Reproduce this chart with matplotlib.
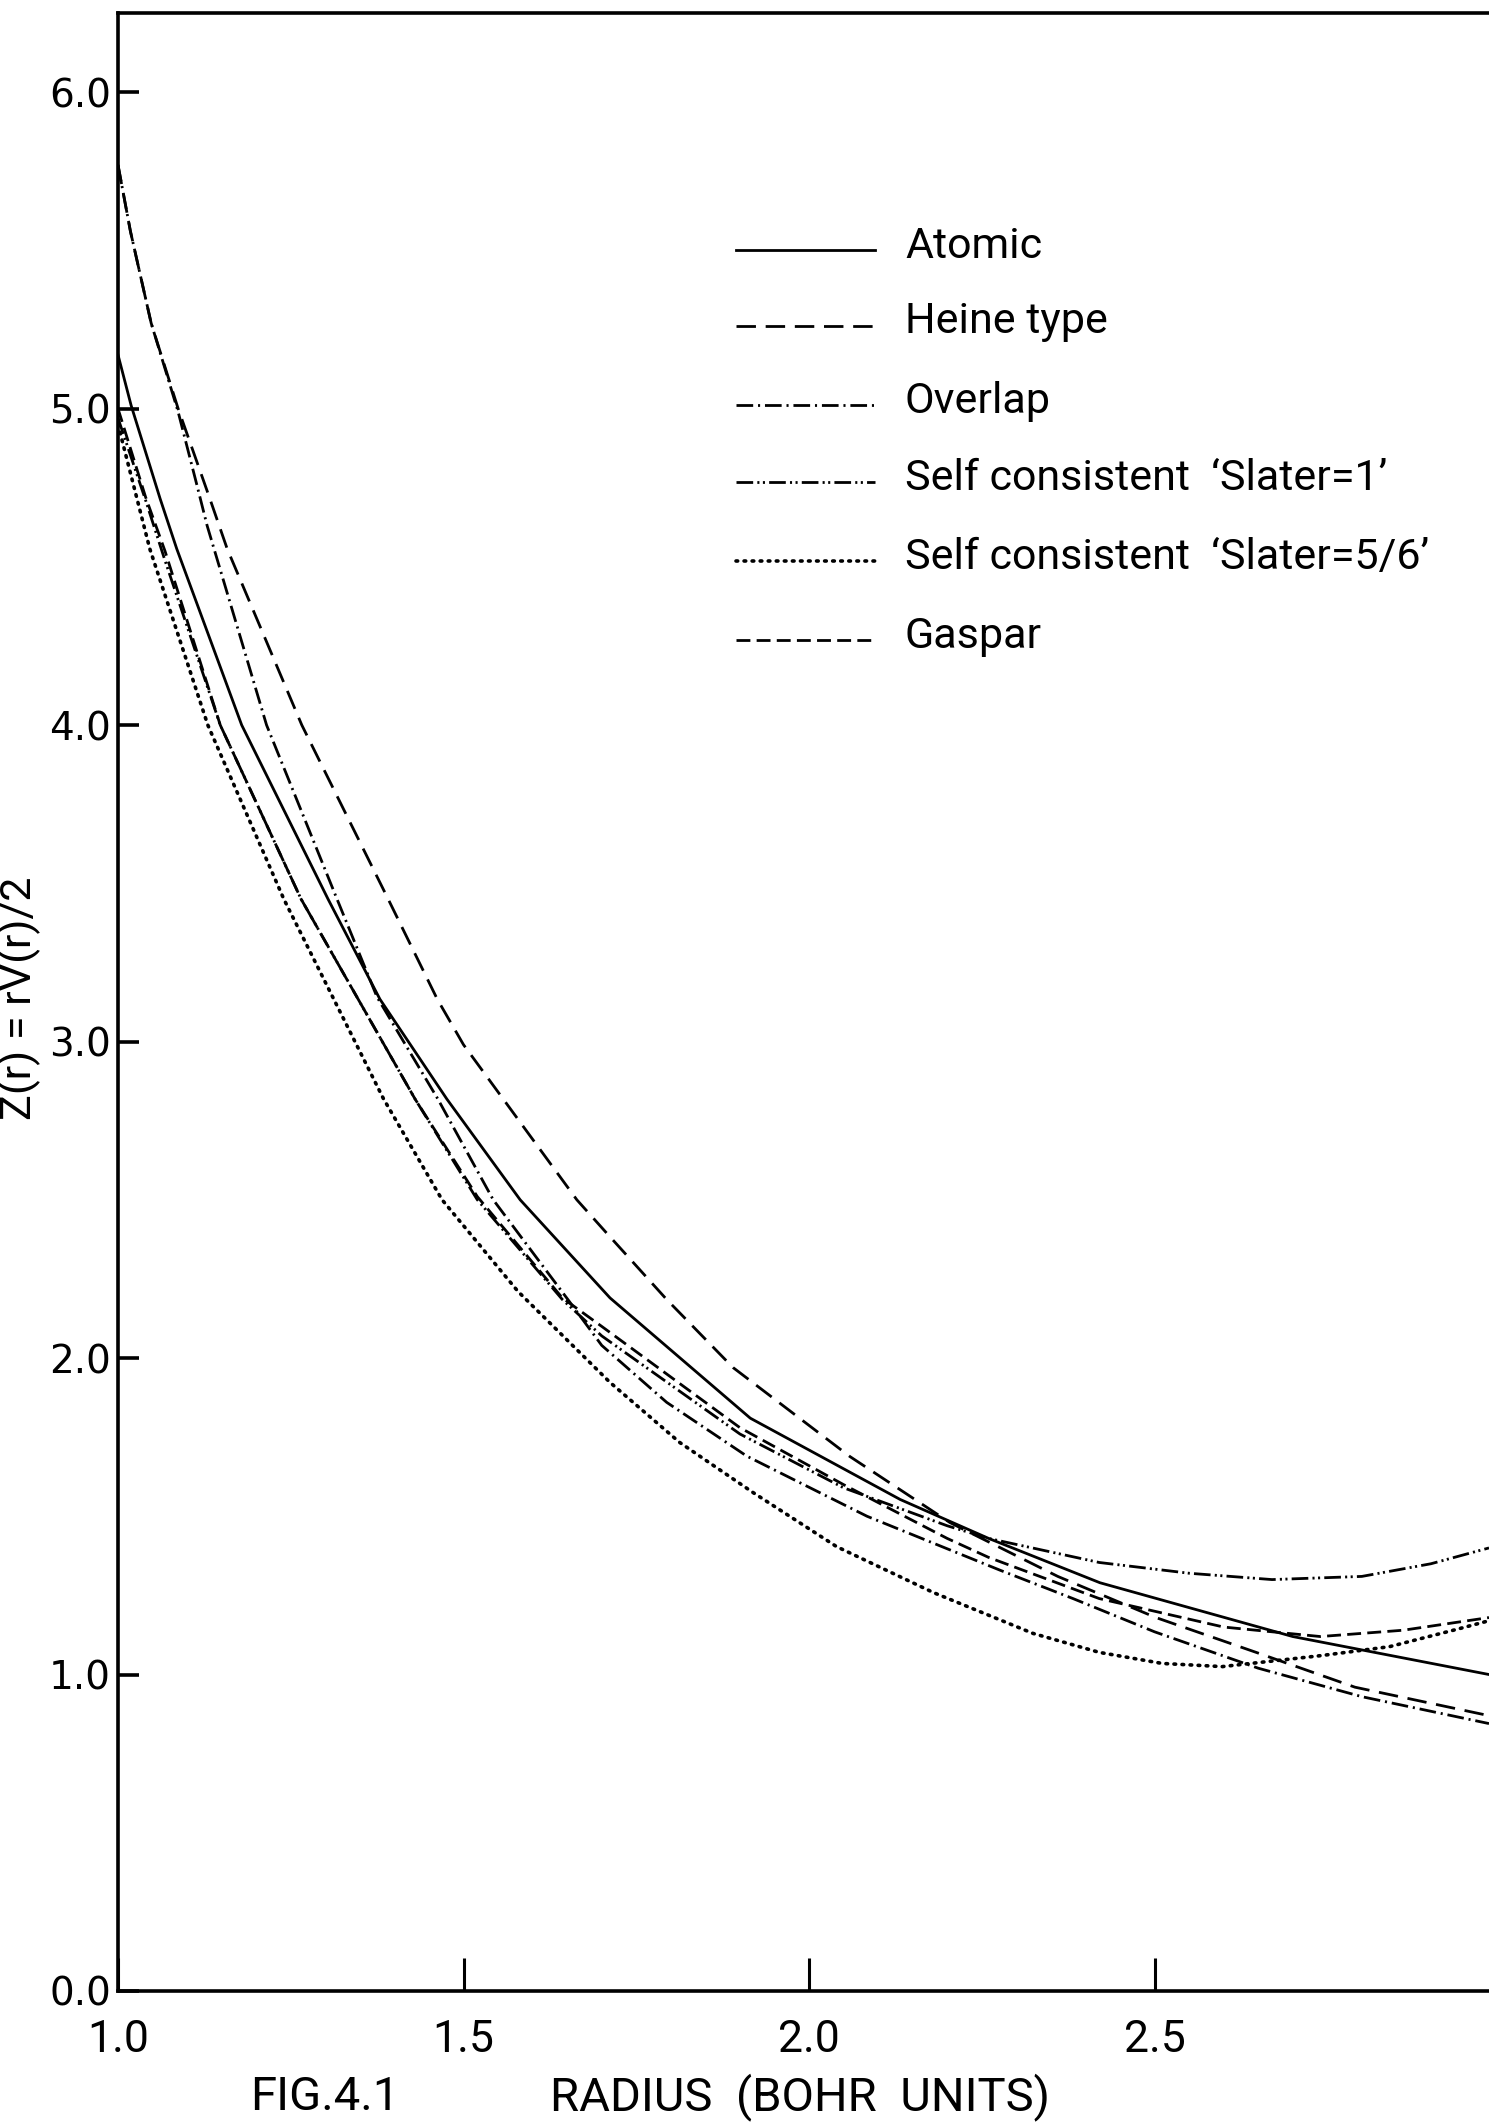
import matplotlib.pyplot as plt

plt.rcParams['lines.scale_dashes'] = False

# radius (Bohr units) / Z(r) readings for each potential
atomic_r = [1.0, 1.019, 1.061, 1.085, 1.179, 1.304, 1.379, 1.476, 1.582, 1.712, 1.915, 2.132, 2.26, 2.421, 2.7, 2.984]
atomic_z = [5.17, 5.01, 4.715, 4.557, 4.0, 3.45, 3.134, 2.818, 2.50, 2.19, 1.81, 1.553, 1.43, 1.29, 1.12, 1.0]

heine_r = [1.0, 1.018, 1.048, 1.087, 1.133, 1.158, 1.266, 1.391, 1.462, 1.5, 1.664, 1.705, 1.794, 1.89,
           2.059, 2.204, 2.36, 2.502, 2.647, 2.79, 2.984]
heine_z = [5.77, 5.56, 5.27, 5.00, 4.715, 4.557, 4.0, 3.45, 3.134, 2.99, 2.50, 2.40, 2.185, 1.97,
           1.689, 1.48, 1.31, 1.18, 1.07, 0.96, 0.87]

overlap_r = [1.0, 1.018, 1.048, 1.087, 1.114, 1.129, 1.215, 1.317, 1.375, 1.463, 1.543, 1.651, 1.7,
             1.794, 1.91, 2.084, 2.276, 2.382, 2.5, 2.65, 2.8, 2.984]
overlap_z = [5.77, 5.56, 5.27, 4.99, 4.76, 4.63, 4.0, 3.45, 3.14, 2.818, 2.50, 2.185, 2.04,
             1.86, 1.69, 1.50, 1.33, 1.24, 1.135, 1.02, 0.93, 0.845]

slater1_r = [1.0, 1.04, 1.068, 1.148, 1.265, 1.43, 1.52, 1.643, 1.7, 1.9, 2.05, 2.2, 2.26, 2.42,
             2.55, 2.67, 2.8, 2.9, 2.984]
slater1_z = [4.97, 4.71, 4.52, 4.0, 3.45, 2.818, 2.50, 2.185, 2.07, 1.76, 1.59, 1.47, 1.43, 1.354,
             1.32, 1.30, 1.31, 1.35, 1.40]

slater56_r = [1.0, 1.046, 1.13, 1.24, 1.384, 1.469, 1.579, 1.712, 1.813, 1.919, 2.04, 2.18, 2.324,
              2.42, 2.511, 2.598, 2.742, 2.84, 2.936, 2.984]
slater56_z = [4.95, 4.557, 4.0, 3.45, 2.82, 2.50, 2.21, 1.923, 1.733, 1.575, 1.404, 1.259, 1.13,
              1.07, 1.035, 1.025, 1.06, 1.088, 1.142, 1.17]

gaspar_r = [1.0, 1.04, 1.068, 1.148, 1.265, 1.43, 1.52, 1.643, 1.7, 1.9, 2.05, 2.2, 2.26, 2.42,
            2.6, 2.74, 2.86, 2.984]
gaspar_z = [5.0, 4.72, 4.55, 4.0, 3.45, 2.818, 2.51, 2.19, 2.10, 1.78, 1.60, 1.43, 1.37, 1.24,
            1.15, 1.12, 1.14, 1.18]

labels = ['Atomic', 'Heine type', 'Overlap', "Self consistent  \u2018Slater=1\u2019",
          "Self consistent  \u2018Slater=5/6\u2019", 'Gaspar']

xticks = [1.0, 1.5, 2.0, 2.5]
yticks = [0.0, 1.0, 2.0, 3.0, 4.0, 5.0, 6.0]

styles = [
    dict(linestyle='-'),
    dict(dashes=(14, 7)),
    dict(dashes=(12, 3.5, 1.5, 3.5)),
    dict(dashes=(12, 3, 1.5, 2.5, 1.5, 3)),
    dict(dashes=(1.2, 4.6), dash_capstyle='round'),
    dict(dashes=(10, 4.5)),
]

series = [(atomic_r, atomic_z), (heine_r, heine_z), (overlap_r, overlap_z),
          (slater1_r, slater1_z), (slater56_r, slater56_z), (gaspar_r, gaspar_z)]

narrow = ['Liberation Sans Narrow', 'DejaVu Sans Condensed', 'Roboto', 'DejaVu Sans']

fig = plt.figure(figsize=(14.89, 21.25), dpi=100)
ax = fig.add_axes([118 / 1489, (2125 - 1991) / 2125, 1371 / 1489, (1991 - 13) / 2125])

for (r, z), st in zip(series, styles):
    lw = 2.6 if 'dash_capstyle' in st else 2.0
    ax.plot(r, z, color='black', lw=lw, **st)

ax.set_xlim(1.0, 2.984)
ax.set_ylim(0, 6.25)

for side in ['left', 'top', 'bottom']:
    ax.spines[side].set_linewidth(2.6)
ax.spines['right'].set_visible(False)

ax.set_yticks(yticks)
ax.set_yticklabels(['%.1f' % v for v in yticks])
ax.tick_params(axis='y', direction='in', length=15, width=2.6, pad=5, labelsize=28)
ax.set_xticks(xticks)
ax.set_xticklabels(['%.1f' % v for v in xticks], family=narrow, fontsize=32)
ax.tick_params(axis='x', direction='in', length=24, width=2.2, pad=20)

# hand-drawn key
key_y = [0.880, 0.842, 0.802, 0.763, 0.723, 0.683]
for ky, st, lab in zip(key_y, styles, labels):
    lw = 2.6 if 'dash_capstyle' in st else 2.0
    ax.plot([0.451, 0.552], [ky, ky], transform=ax.transAxes, color='black', lw=lw, **st)
    ax.text(0.574, ky - 0.004, lab, transform=ax.transAxes, ha='left', va='baseline',
            fontsize=31, family=narrow)

fig.text(19 / 1489, 1 - 998 / 2125, 'Z(r) = rV(r)/2', rotation=90, ha='center', va='center',
         fontsize=31, family=narrow)
fig.text(325 / 1489, 1 - 2097 / 2125, 'FIG.4.1', ha='center', va='center', fontsize=34, family=narrow)
fig.text(800 / 1489, 1 - 2097 / 2125, 'RADIUS  (BOHR  UNITS)', ha='center', va='center',
         fontsize=34, family=narrow)

fig.savefig('out.png', dpi=100)
